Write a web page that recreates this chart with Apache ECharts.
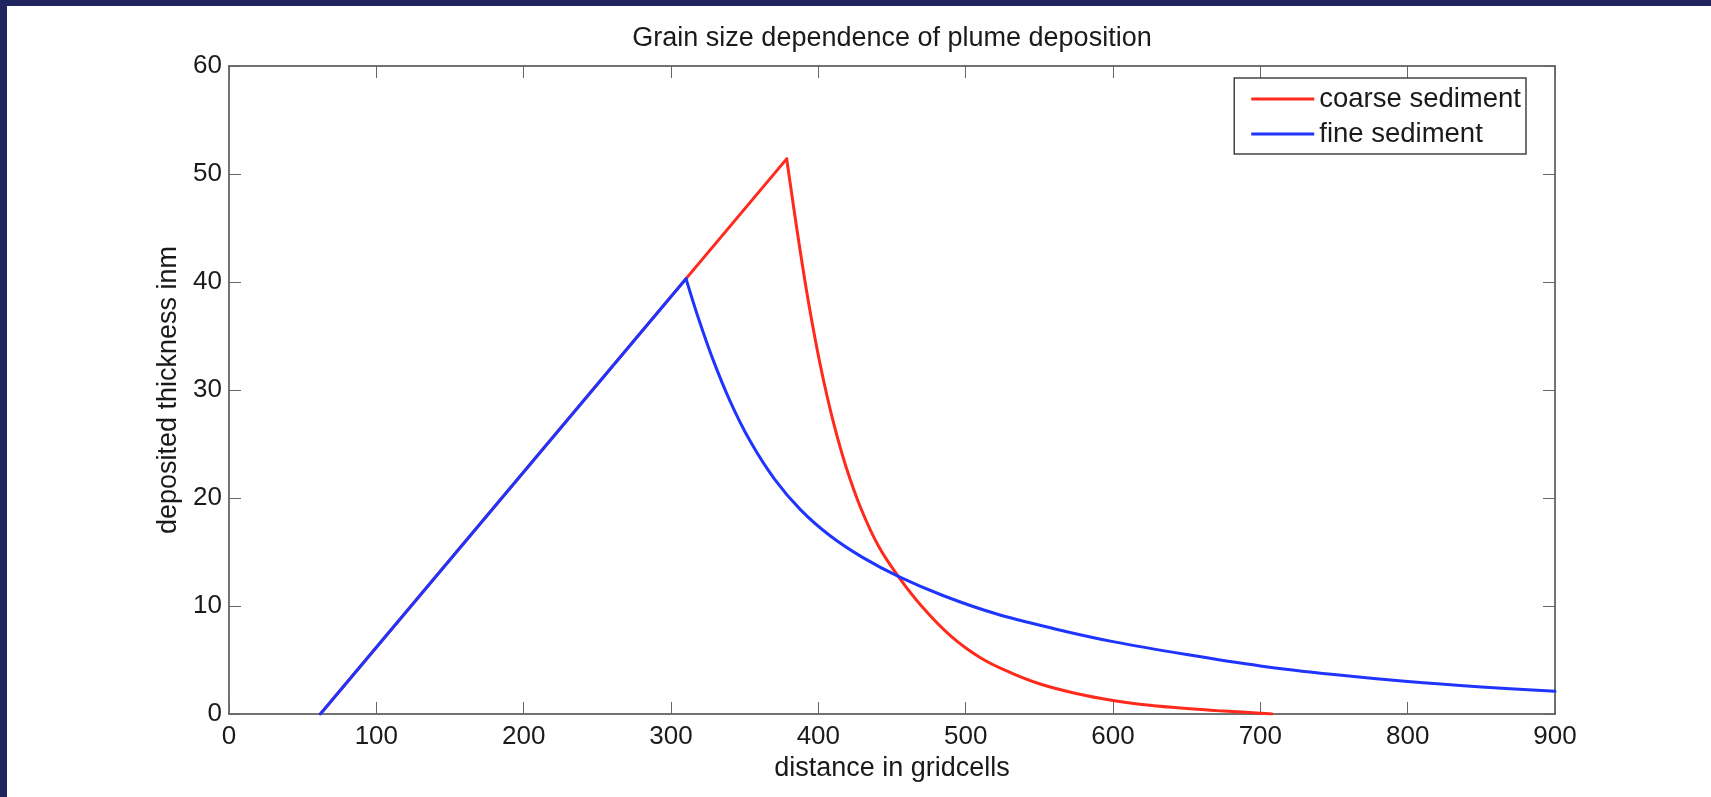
<!DOCTYPE html>
<html>
<head>
<meta charset="utf-8">
<title>Grain size dependence of plume deposition</title>
<script src="https://cdn.jsdelivr.net/npm/echarts@6/dist/echarts.min.js"></script>
<style>
  html, body {
    margin: 0;
    padding: 0;
    width: 1711px;
    height: 797px;
    background: #21255f;
    overflow: hidden;
  }
  #chart {
    position: absolute;
    left: 7px;
    top: 6px;
    width: 1704px;
    height: 791px;
    background: #ffffff;
  }
</style>
</head>
<body>
<div id="chart"></div>
<script>
// coarse sediment (red)
const coarseX = [62, 378.5, 386, 392, 398, 404, 411, 419, 429, 441, 455, 470, 490, 510, 530, 550, 575, 600, 625, 650, 675, 700, 708]
const coarseY = [0, 51.4, 44.4, 39.2, 34.6, 30.6, 26.6, 22.8, 19.0, 15.5, 12.6, 10.0, 7.2, 5.2, 3.85, 2.8, 1.9, 1.25, 0.8, 0.5, 0.27, 0.08, 0]

// fine sediment (blue)
const fineX = [62, 310.2, 318, 328, 340, 354, 370, 388, 408, 430, 455, 485, 520, 560, 600, 650, 700, 750, 800, 850, 900]
const fineY = [0, 40.3, 36.9, 33.0, 29.0, 25.2, 21.8, 18.9, 16.5, 14.5, 12.7, 10.95, 9.3, 7.9, 6.7, 5.5, 4.45, 3.65, 3.0, 2.5, 2.1]

const xTicks = [0, 100, 200, 300, 400, 500, 600, 700, 800, 900]
const yTicks = [0, 10, 20, 30, 40, 50, 60]

const FONT = '"Liberation Sans", Arial, sans-serif'
const AXIS_COLOR = '#444'
const TEXT_COLOR = '#1a1a1a'

const zip = (xs, ys) => xs.map((x, i) => [x, ys[i]])

// 直线上升段不平滑，峰值之后的衰减段平滑
const splitAtPeak = (xs, ys) => {
  const pts = zip(xs, ys)
  const peak = ys.indexOf(Math.max(...ys))
  return [pts.slice(0, peak + 1), pts.slice(peak)]
}

const chart = echarts.init(document.getElementById('chart'))

const baseAxis = (ticks, pos, showLabel) => ({
  type: 'value',
  position: pos,
  min: ticks[0],
  max: ticks[ticks.length - 1],
  interval: ticks[1] - ticks[0],
  axisLine: { show: true, onZero: false, lineStyle: { color: AXIS_COLOR, width: 1.5 } },
  axisTick: { show: true, inside: true, length: 12, lineStyle: { color: '#666', width: 1 } },
  axisLabel: { show: showLabel, color: TEXT_COLOR, fontFamily: FONT, fontSize: 26 },
  splitLine: { show: false }
})

const lineSeries = (name, color, data, smooth, z) => ({
  name,
  type: 'line',
  data,
  smooth,
  showSymbol: false,
  color,
  lineStyle: { width: 3, color, cap: 'round', join: 'round' },
  z
})

const [coarseRise, coarseFall] = splitAtPeak(coarseX, coarseY)
const [fineRise, fineFall] = splitAtPeak(fineX, fineY)

const option = {
  animation: false,
  title: {
    text: 'Grain size dependence of plume deposition',
    left: 885,
    top: 19,
    padding: 0,
    textAlign: 'center',
    textStyle: { color: TEXT_COLOR, fontFamily: FONT, fontSize: 27, fontWeight: 'normal' }
  },
  legend: {
    orient: 'vertical',
    right: 185,
    top: 72,
    padding: [7, 5, 6, 17],
    itemGap: 7,
    itemWidth: 63,
    itemHeight: 3,
    icon: 'rect',
    backgroundColor: '#fff',
    borderColor: AXIS_COLOR,
    borderWidth: 1.5,
    borderRadius: 0,
    textStyle: { color: TEXT_COLOR, fontFamily: FONT, fontSize: 27.5, lineHeight: 27 },
    data: ['coarse sediment', 'fine sediment']
  },
  grid: { left: 222, top: 60, right: 156, bottom: 83 },
  xAxis: [
    Object.assign(baseAxis(xTicks, 'bottom', true), {
      name: 'distance in gridcells',
      nameLocation: 'middle',
      nameGap: 39,
      nameTextStyle: { color: TEXT_COLOR, fontFamily: FONT, fontSize: 27 },
      axisLabel: { color: TEXT_COLOR, fontFamily: FONT, fontSize: 26, margin: 10 }
    }),
    baseAxis(xTicks, 'top', false)
  ],
  yAxis: [
    Object.assign(baseAxis(yTicks, 'left', true), {
      name: 'deposited thickness inm',
      nameLocation: 'middle',
      nameGap: 46,
      nameTextStyle: { color: TEXT_COLOR, fontFamily: FONT, fontSize: 27 },
      axisLabel: { color: TEXT_COLOR, fontFamily: FONT, fontSize: 26, margin: 7 }
    }),
    baseAxis(yTicks, 'right', false)
  ],
  series: [
    lineSeries('coarse sediment', '#ff2a1c', coarseRise, false, 2),
    lineSeries('coarse sediment', '#ff2a1c', coarseFall, 0.4, 2),
    lineSeries('fine sediment', '#1f35ff', fineRise, false, 3),
    lineSeries('fine sediment', '#1f35ff', fineFall, 0.35, 3)
  ]
}

chart.setOption(option)
</script>
</body>
</html>
